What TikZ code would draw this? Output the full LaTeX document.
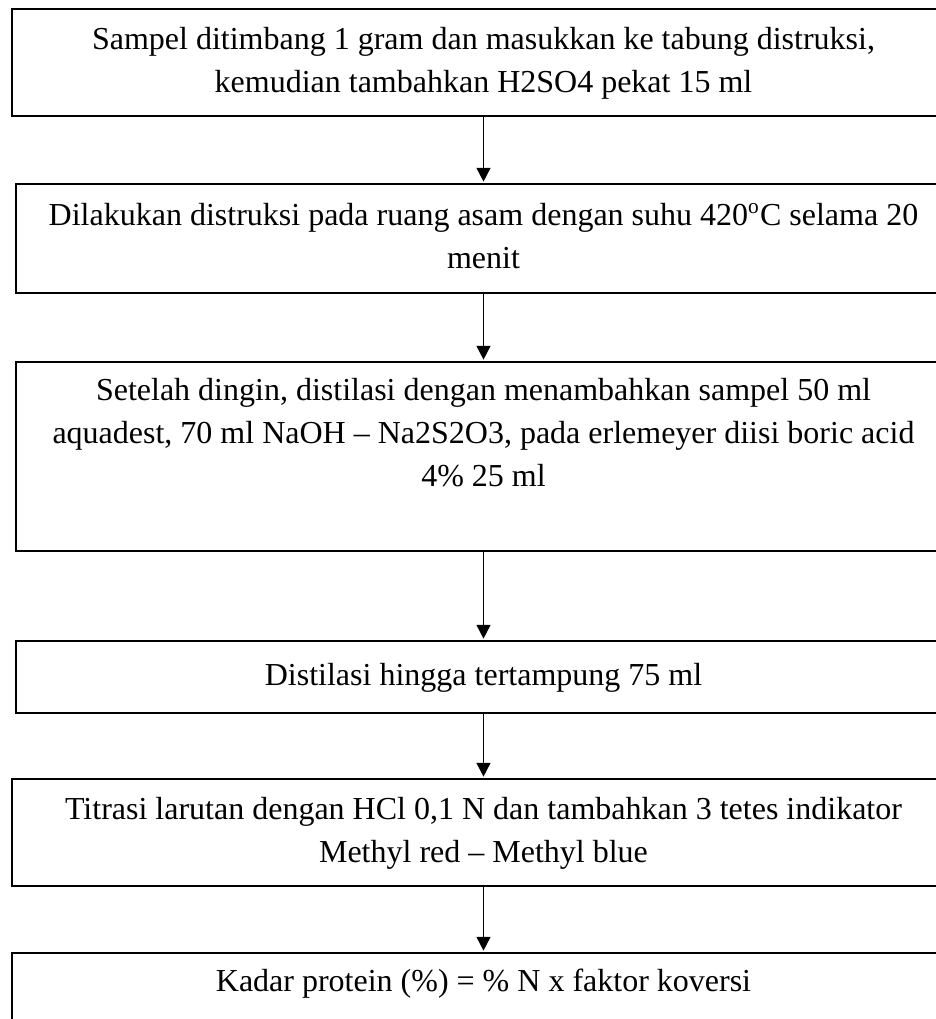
\documentclass[tikz,border=0pt]{standalone}
\usepackage{fontspec}
\setmainfont{Liberation Serif}
\usetikzlibrary{arrows.meta}
\begin{document}
\begin{tikzpicture}[x=0.375pt,y=-0.375pt,
  box/.style={draw, line width=0.75pt, inner xsep=0pt, inner ysep=0pt, align=center, anchor=north,
    font=\fontsize{12}{16.3}\selectfont},
  wide/.style={minimum width=943*0.375pt},
  narrow/.style={minimum width=935*0.375pt},
  flow/.style={-{Triangle[width=5.2pt,length=5.2pt]}, line width=0.65pt, shorten >=0.5pt}]
\useasboundingbox (0,0) rectangle (936,1019);
\clip (0,0) rectangle (936,1019);
\node[box, wide, minimum height=107*0.375pt] (b1) at (483.5,8)
  {\strut Sampel ditimbang 1 gram dan masukkan ke tabung distruksi,\\ kemudian tambahkan H2SO4 pekat 15 ml\strut};
\node[box, narrow, minimum height=109*0.375pt] (b2) at (483.5,183)
  {\strut Dilakukan distruksi pada ruang asam dengan suhu 420\textsuperscript{o}C selama 20\\ menit\strut};
\node[box, narrow, minimum height=189*0.375pt] (b3) at (483.5,361)
  {\strut Setelah dingin, distilasi dengan menambahkan sampel 50 ml\\ aquadest, 70 ml NaOH – Na2S2O3, pada erlemeyer diisi boric acid\\ 4\% 25 ml\\ \strut};
\node[box, narrow, minimum height=72*0.375pt] (b4) at (483.5,640)
  {\strut Distilasi hingga tertampung 75 ml\strut};
\node[box, wide, minimum height=107*0.375pt] (b5) at (483.5,778)
  {\strut Titrasi larutan dengan HCl 0,1 N dan tambahkan 3 tetes indikator\\ Methyl red – Methyl blue\strut};
\node[box, wide, inner ysep=8*0.375pt, text depth=40pt] (b6) at (483.5,952)
  {\strut Kadar protein (\%) = \% N x faktor koversi};
\draw[flow] (b1.south) -- (b2.north);
\draw[flow] (b2.south) -- (b3.north);
\draw[flow] (b3.south) -- (b4.north);
\draw[flow] (b4.south) -- (b5.north);
\draw[flow] (b5.south) -- (b6.north);
\end{tikzpicture}
\end{document}
